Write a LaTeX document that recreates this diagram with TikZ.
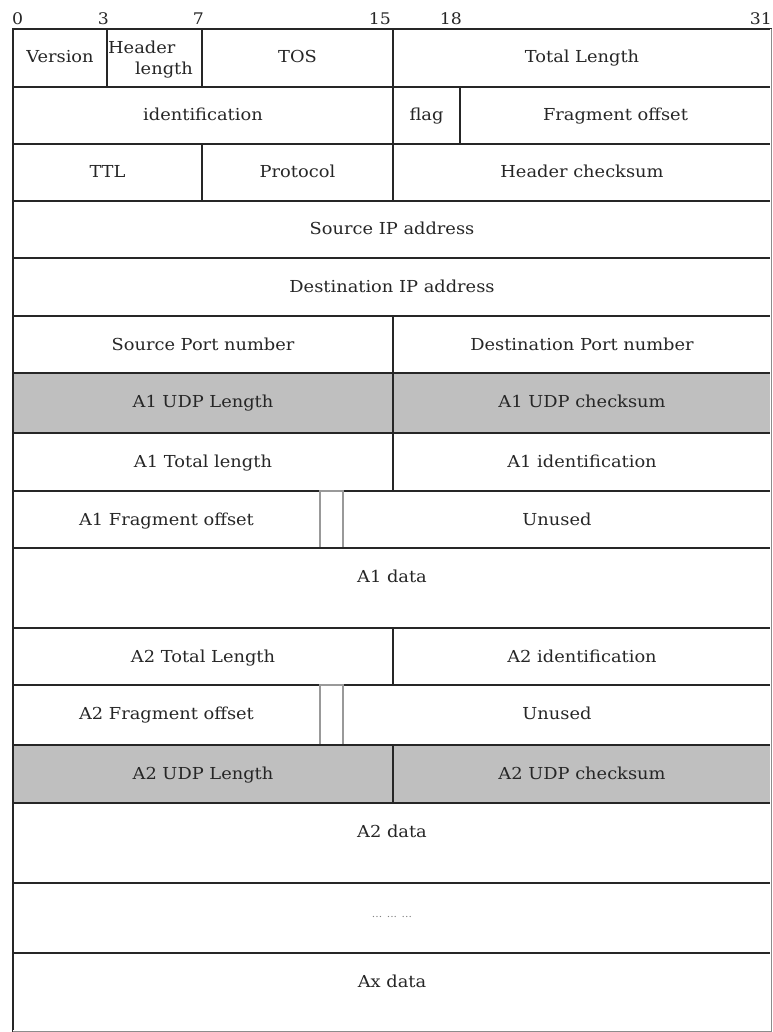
\documentclass[tikz,border=0pt]{standalone}
\usepackage{fontspec}
\setmainfont[FakeStretch=1.08]{DejaVu Serif}
\newcommand\cellbox[7][]{%
  \draw[box,#1] (#3,#4) rectangle (#5,#6);
  \node[lbl] (#2) at ({(#3+#5)/2},{#4+34}) {#7};}
\begin{document}
\begin{tikzpicture}[x=1pt,y=-1pt,
  box/.style={draw=black!85,line width=1.4pt},
  shade/.style={fill=black!25},
  gapbox/.style={draw=black!40,line width=1.3pt,fill=white},
  lbl/.style={font=\fontsize{16.5}{19}\selectfont,text=black!85,inner sep=0pt,anchor=base},
  num/.style={font=\fontsize{16}{18}\selectfont,text=black!85,inner sep=0pt,anchor=base east}]
\useasboundingbox (0,0) rectangle (772,1032);
% bit numbers
\node[num,anchor=base west] (n0) at (12,25) {0};
\node[num] (n3) at (109,25) {3};
\node[num] (n7) at (204,25) {7};
\node[num] (n15) at (391,25) {15};
\node[num] (n18) at (462,25) {18};
\node[num] (n31) at (772,25) {31};
% row 1
\cellbox{ver}{13}{29}{107}{87}{Version}
\draw[box] (107,29) rectangle (202,87);
\node[lbl,anchor=base west] (hl1) at (108,54) {Header};
\node[lbl,anchor=base east] (hl2) at (193,75) {length};
\cellbox{tos}{202}{29}{393}{87}{TOS}
\cellbox{tl}{393}{29}{771}{87}{Total Length}
% row 2
\cellbox{id}{13}{87}{393}{144}{identification}
\cellbox{flag}{393}{87}{460}{144}{flag}
\cellbox{fo}{460}{87}{771}{144}{Fragment offset}
% row 3
\cellbox{ttl}{13}{144}{202}{201}{TTL}
\cellbox{proto}{202}{144}{393}{201}{Protocol}
\cellbox{hc}{393}{144}{771}{201}{Header checksum}
% rows 4-6
\cellbox{sip}{13}{201}{771}{258}{Source IP address}
\cellbox{dip}{13}{258}{771}{316}{Destination IP address}
\cellbox{sp}{13}{316}{393}{373}{Source Port number}
\cellbox{dp}{393}{316}{771}{373}{Destination Port number}
% A1
\cellbox[shade]{a1ul}{13}{373}{393}{433}{A1 UDP Length}
\cellbox[shade]{a1uc}{393}{373}{771}{433}{A1 UDP checksum}
\cellbox{a1tl}{13}{433}{393}{491}{A1 Total length}
\cellbox{a1id}{393}{433}{771}{491}{A1 identification}
\draw[draw=black!40,line width=1.3pt] (13,491) -- (771,491);
\cellbox{a1fo}{13}{491}{320}{548}{A1 Fragment offset}
\cellbox{a1un}{343}{491}{771}{548}{Unused}
\draw[gapbox] (320,491) rectangle (343,548);
\cellbox{a1d}{13}{548}{771}{628}{A1 data}
% A2
\cellbox{a2tl}{13}{628}{393}{685}{A2 Total Length}
\cellbox{a2id}{393}{628}{771}{685}{A2 identification}
\cellbox{a2fo}{13}{685}{320}{745}{A2 Fragment offset}
\cellbox{a2un}{343}{685}{771}{745}{Unused}
\draw[gapbox] (320,685) rectangle (343,745);
\cellbox[shade]{a2ul}{13}{745}{393}{803}{A2 UDP Length}
\cellbox[shade]{a2uc}{393}{745}{771}{803}{A2 UDP checksum}
\cellbox{a2d}{13}{803}{771}{883}{A2 data}
\draw[box] (13,883) rectangle (771,953);
\node[lbl,font=\fontsize{10}{11}\selectfont,text=black!50] (dots) at (392,917) {... ... ...};
\cellbox{axd}{13}{953}{771}{1031}{Ax data}
% thin grey outer edges
\draw[white,line width=1.6pt] (771.2,29) -- (771.2,1031.2) -- (13,1031.2);
\draw[black!45,line width=0.9pt] (771,29) -- (771,1031) -- (13,1031);
\end{tikzpicture}
\end{document}
